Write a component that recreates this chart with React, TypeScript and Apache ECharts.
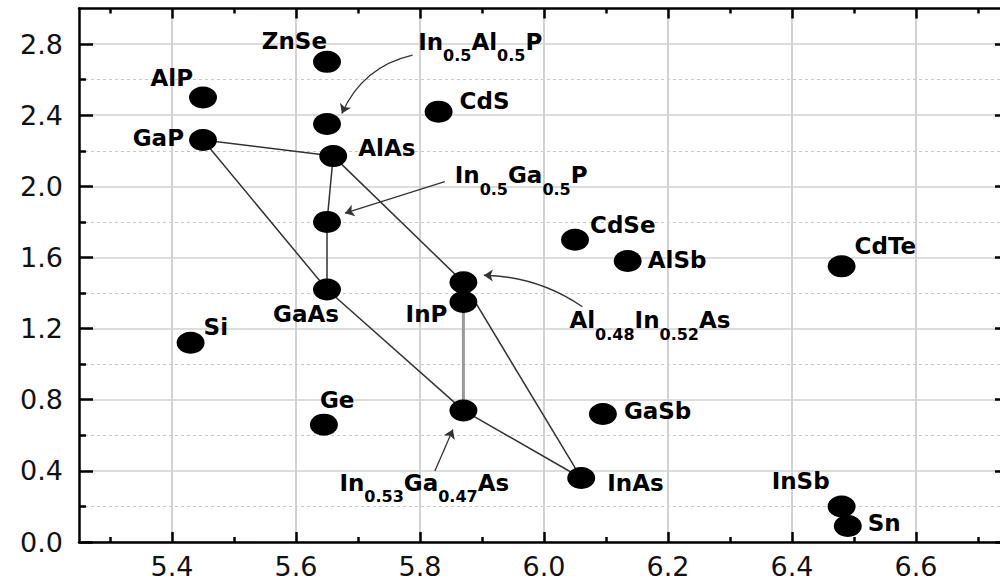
import React, { useEffect, useRef } from "react";
import * as echarts from "echarts";

// ---------- data ----------
const materials = [
  "ZnSe", "AlP", "GaP", "In0.5Al0.5P", "AlAs", "In0.5Ga0.5P", "GaAs", "CdS",
  "Al0.48In0.52As", "InP", "In0.53Ga0.47As", "Si", "Ge", "InAs", "GaSb",
  "InSb", "Sn", "CdSe", "AlSb", "CdTe",
];
const latticeConstant = [
  5.65, 5.45, 5.45, 5.65, 5.66, 5.65, 5.65, 5.83,
  5.87, 5.87, 5.87, 5.43, 5.645, 6.06, 6.095,
  6.48, 6.49, 6.05, 6.135, 6.48,
];
const bandGap = [
  2.70, 2.50, 2.26, 2.35, 2.17, 1.80, 1.42, 2.42,
  1.46, 1.35, 0.74, 1.12, 0.66, 0.36, 0.72,
  0.20, 0.09, 1.70, 1.58, 1.55,
];

const blackLinks = [
  ["GaP", "AlAs"],
  ["GaP", "GaAs", "In0.53Ga0.47As", "InAs"],
  ["AlAs", "In0.5Ga0.5P", "GaAs"],
  ["AlAs", "Al0.48In0.52As", "InAs"],
];
const grayLinks = [["InP", "In0.53Ga0.47As"]];

const xMajor = [5.4, 5.6, 5.8, 6.0, 6.2, 6.4, 6.6];
const xMinor = [5.3, 5.5, 5.7, 5.9, 6.1, 6.3, 6.5, 6.7];
const yMajor = [0, 0.4, 0.8, 1.2, 1.6, 2.0, 2.4, 2.8];
const yMinor = [0.2, 0.6, 1.0, 1.4, 1.8, 2.2, 2.6];
const X_MIN = 5.25;
const X_MAX = 6.75;
const Y_MIN = 0;
const Y_MAX = 3.0;

// alloy annotation texts (rich) and their anchors (data coords)
const alloyNames = ["In0.5Al0.5P", "In0.5Ga0.5P", "Al0.48In0.52As", "In0.53Ga0.47As"];
const alloyRich = [
  "{m|In}{s|0.5}{m|Al}{s|0.5}{m|P}",
  "{m|In}{s|0.5}{m|Ga}{s|0.5}{m|P}",
  "{m|Al}{s|0.48}{m|In}{s|0.52}{m|As}",
  "{m|In}{s|0.53}{m|Ga}{s|0.47}{m|As}",
];
const alloyLabelAt = [
  [5.797, 2.813],
  [5.856, 2.062],
  [6.041, 1.248],
  [5.67, 0.333],
];
// annotation arrows: from, to (data coords), curvature
const arrowFrom = [[5.788, 2.738], [5.84, 2.027], [6.062, 1.323], [5.824, 0.399]];
const arrowTo = [[5.674, 2.41], [5.679, 1.849], [5.903, 1.5], [5.853, 0.633]];
const arrowCurve = [-0.25, 0, -0.15, 0];

// ---------- styles ----------
const FONT = "'DejaVu Sans', 'Liberation Sans', sans-serif";
// label placement: [dx, dy, align]
const labelPlacement: Record<string, [number, number, string]> = {
  ZnSe: [0, -21, "right"],
  AlP: [-10, -19, "right"],
  GaP: [-19, -2, "right"],
  CdS: [21, -11, "left"],
  AlAs: [25, -8, "left"],
  GaAs: [12, 25, "right"],
  InP: [-16, 12, "right"],
  Si: [13, -16, "left"],
  Ge: [-4, -25, "left"],
  GaSb: [21, -3, "left"],
  InAs: [26, 5, "left"],
  InSb: [-12, -25, "right"],
  Sn: [20, -3, "left"],
  CdSe: [15, -15, "left"],
  AlSb: [20, -1, "left"],
  CdTe: [13, -20, "left"],
};

function pt(name: string): [number, number] {
  const i = materials.indexOf(name);
  return [latticeConstant[i], bandGap[i]];
}

const AX = "#000";
const fmt1 = (v: number) => Number(v).toFixed(1);

function xAxisDef(position: string, values: number[], len: number, showLine: boolean, showLabel: boolean, split: boolean) {
  return {
    type: "value",
    min: X_MIN,
    max: X_MAX,
    position,
    axisLine: { show: showLine, onZero: false, lineStyle: { color: AX, width: 2.5 } },
    axisTick: { show: true, inside: true, length: len, customValues: values, lineStyle: { color: AX, width: 2.5 } },
    axisLabel: showLabel
      ? { show: true, customValues: values, formatter: fmt1, fontSize: 27, fontFamily: FONT, color: "#111", margin: 11 }
      : { show: false },
    splitLine: split ? { show: true, lineStyle: { color: "#d2d2d2", width: 2 } } : { show: false },
  };
}

function yAxisDef(position: string, values: number[], len: number, showLine: boolean, showLabel: boolean, split: any) {
  return {
    type: "value",
    min: Y_MIN,
    max: Y_MAX,
    position,
    axisLine: { show: showLine, onZero: false, lineStyle: { color: AX, width: 2.5 } },
    axisTick: { show: true, inside: true, length: len, customValues: values, lineStyle: { color: AX, width: 2.5 } },
    axisLabel: showLabel
      ? { show: true, customValues: values, formatter: fmt1, fontSize: 27, fontFamily: FONT, color: "#111", margin: 16 }
      : { show: false },
    splitLine: split ? { show: true, lineStyle: split } : { show: false },
  };
}

export default function App() {
  const ref = useRef<HTMLDivElement>(null);
  useEffect(() => {
    if (!ref.current) return;
    const chart = echarts.init(ref.current, null, { renderer: "svg" });

    const linkSeries = blackLinks.map((chain) => ({
      type: "line",
      data: chain.map(pt),
      symbol: "none",
      silent: true,
      z: 2,
      lineStyle: { color: "#333", width: 1.5 },
    }));
    const graySeries = grayLinks.map((chain) => ({
      type: "line",
      data: chain.map(pt),
      symbol: "none",
      silent: true,
      z: 2,
      lineStyle: { color: "#9a9a9a", width: 3 },
    }));
    const arrowSeries = arrowFrom.map((from, i) => ({
      type: "lines",
      coordinateSystem: "cartesian2d",
      symbol: ["none", "arrow"],
      symbolSize: 9,
      silent: true,
      z: 4,
      lineStyle: { color: "#333", width: 1.3, opacity: 1, curveness: arrowCurve[i] },
      data: [{ coords: [from, arrowTo[i]] }],
    }));

    const pointData = materials.map((n, i) => {
      const p = labelPlacement[n];
      return {
        name: n,
        value: [latticeConstant[i], bandGap[i]],
        label: p
          ? {
              show: true,
              position: "inside",
              formatter: "{b}",
              align: p[2],
              verticalAlign: "middle",
              offset: [p[0], p[1]],
              fontFamily: FONT,
              fontWeight: "bold",
              fontSize: 23,
              color: "#000",
            }
          : { show: false },
      };
    });

    chart.setOption({
      animation: false,
      backgroundColor: "#fff",
      grid: { left: 79, top: 8.5, width: 930, height: 533.5, outerBoundsMode: "none", containLabel: false },
      xAxis: [
        xAxisDef("bottom", xMajor, 10, true, true, true),
        xAxisDef("bottom", xMinor, 5, false, false, false),
        xAxisDef("top", xMajor, 10, true, false, false),
        xAxisDef("top", xMinor, 5, false, false, false),
      ],
      yAxis: [
        yAxisDef("left", yMajor, 14, true, true, { color: "#d2d2d2", width: 1.5 }),
        yAxisDef("left", yMinor, 7, false, false, { color: "#c8c8c8", width: 1, type: [3, 3] }),
        yAxisDef("right", yMajor, 14, false, false, null),
        yAxisDef("right", yMinor, 7, false, false, null),
      ],
      series: [
        ...linkSeries,
        ...graySeries,
        ...arrowSeries,
        {
          type: "scatter",
          symbol: "circle",
          symbolSize: [28, 22],
          itemStyle: { color: "#000", opacity: 1 },
          z: 5,
          emphasis: { disabled: true },
          data: pointData,
        },
        {
          type: "scatter",
          symbol: "circle",
          symbolSize: 1,
          itemStyle: { color: "rgba(0,0,0,0)", opacity: 1 },
          z: 6,
          silent: true,
          emphasis: { disabled: true },
          data: alloyNames.map((n, i) => ({ name: n, value: alloyLabelAt[i] })),
          label: {
            show: true,
            position: "inside",
            align: "left",
            verticalAlign: "middle",
            color: "#000",
            opacity: 1,
            formatter: (p: any) => alloyRich[alloyNames.indexOf(p.name)],
            rich: {
              m: { fontFamily: FONT, fontWeight: "bold", fontSize: 23, lineHeight: 24, color: "#000", verticalAlign: "middle" },
              s: { fontFamily: FONT, fontWeight: "bold", fontSize: 16, lineHeight: 16, color: "#000", padding: [28, 0, 0, 0], verticalAlign: "middle" },
            },
          },
        },
      ],
    });
    return () => chart.dispose();
  }, []);
  return (
    <div
      ref={ref}
      style={{ position: "fixed", left: 0, top: 0, width: 1000, height: 582, background: "#fff" }}
    />
  );
}
